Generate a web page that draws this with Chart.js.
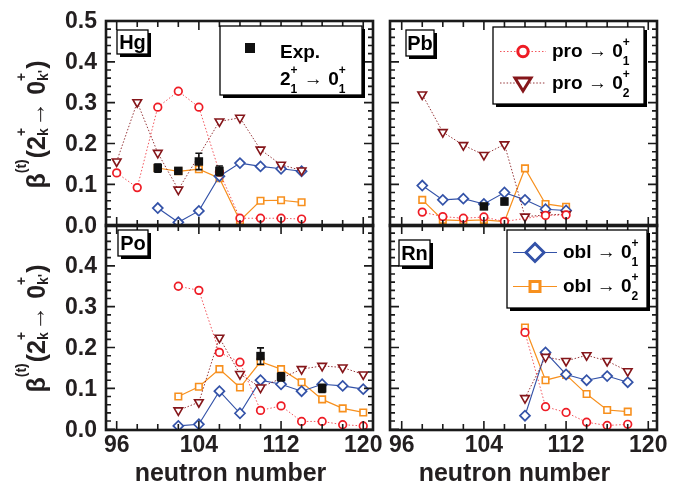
<!DOCTYPE html>
<html>
<head>
<meta charset="utf-8">
<script src="https://cdn.jsdelivr.net/npm/chart.js@4.4.1/dist/chart.umd.min.js"></script>
<style>
  html, body { margin: 0; padding: 0; background: #fff; }
  #wrap { position: relative; width: 678px; height: 489px; overflow: hidden; background: #fff; }
  #wrap canvas { position: absolute; left: 0; top: 0; }
</style>
</head>
<body>
<div id="wrap">
  <canvas id="cHg" width="678" height="489"></canvas>
  <canvas id="cPb" width="678" height="489"></canvas>
  <canvas id="cPo" width="678" height="489"></canvas>
  <canvas id="cRn" width="678" height="489"></canvas>
</div>
<script>
// ---- tick labels ----
const xTickLabels = [96, 104, 112, 120];
const yTickLabelsTop = [0.0, 0.1, 0.2, 0.3, 0.4, 0.5];
const yTickLabelsBottom = [0.0, 0.1, 0.2, 0.3, 0.4];

// ---- Hg ----
const nHg = [96, 98, 100, 102, 104, 106, 108, 110, 112, 114];
const hgPro1 = [0.128, 0.092, 0.289, 0.328, 0.289, 0.130, 0.017, 0.017, 0.017, 0.015];
const hgPro2 = [0.156, 0.301, 0.177, 0.087, null, 0.254, 0.263, 0.185, 0.148, 0.134];
const hgObl1 = [null, null, 0.042, 0.007, 0.035, 0.120, 0.152, 0.144, 0.138, 0.132];
const hgObl2 = [null, null, 0.140, 0.132, 0.137, 0.115, 0.011, 0.060, 0.061, 0.056];
const nHgExp = [100, 102, 104, 106];
const hgExp = [0.140, 0.133, 0.156, 0.133];
const hgExpErr = [0.010, 0.006, 0.020, 0.012];

// ---- Pb ----
const nPb = [98, 100, 102, 104, 106, 108, 110, 112];
const pbPro1 = [0.032, 0.021, 0.017, 0.020, 0.009, null, 0.024, 0.025];
const pbPro2 = [0.320, 0.228, 0.196, 0.172, 0.198, 0.021, 0.025, 0.027];
const pbObl1 = [0.097, 0.062, 0.065, 0.052, 0.080, 0.062, 0.039, 0.036];
const pbObl2 = [0.062, 0.013, 0.011, 0.013, 0.009, 0.139, 0.052, 0.045];
const nPbExp = [104, 106];
const pbExp = [0.046, 0.058];
const pbExpErr = [0.006, 0.008];

// ---- Po ----
const nPo = [102, 104, 106, 108, 110, 112, 114, 116, 118, 120];
const poPro1 = [0.350, 0.340, 0.188, 0.164, 0.046, 0.057, 0.019, 0.019, 0.011, 0.008];
const poPro2 = [0.046, 0.066, 0.224, 0.135, 0.102, null, 0.147, 0.155, 0.151, 0.134];
const poObl1 = [0.008, 0.012, 0.093, 0.039, 0.120, 0.110, 0.093, 0.110, 0.106, 0.098];
const poObl2 = [0.080, 0.104, 0.147, 0.102, 0.165, 0.147, 0.115, 0.073, 0.051, 0.041];
const nPoExp = [110, 112, 116];
const poExp = [0.179, 0.128, 0.100];
const poExpErr = [0.020, 0.010, 0.010];

// ---- Rn ----
const nRn = [108, 110, 112, 114, 116, 118];
const rnPro1 = [0.237, 0.055, 0.041, 0.017, 0.009, 0.012];
const rnPro2 = [0.076, 0.177, 0.167, 0.181, 0.167, 0.142];
const rnObl1 = [0.033, 0.188, 0.134, 0.120, 0.130, 0.115];
const rnObl2 = [0.249, 0.120, 0.133, 0.086, 0.047, 0.043];

// ---- styling ----
const FONT = '"Liberation Sans", Arial, Helvetica, sans-serif';
const RED = '#ee1c25', DRED = '#85161a', BLUE = '#3352a8', ORANGE = '#f7901e', INK = '#111111';

const stylePro1 = { showLine: true, borderColor: 'rgba(238,28,37,0.75)', borderWidth: 1, borderDash: [1.5, 2],
  pointStyle: 'circle', pointRadius: 3.8, pointBorderWidth: 1.7, pointBorderColor: RED,
  pointBackgroundColor: '#fff', spanGaps: true, order: 1 };
const stylePro2 = { showLine: true, borderColor: 'rgba(133,22,26,0.85)', borderWidth: 1, borderDash: [1.5, 1.8],
  pointStyle: 'triangle', rotation: 180, pointRadius: 5, pointBorderWidth: 1.6, pointBorderColor: DRED,
  pointBackgroundColor: '#fff', spanGaps: true, order: 2 };
const styleObl1 = { showLine: true, borderColor: BLUE, borderWidth: 1.1,
  pointStyle: 'rectRot', pointRadius: 5, pointBorderWidth: 1.7, pointBorderColor: BLUE,
  pointBackgroundColor: '#fff', spanGaps: true, order: 3 };
const styleObl2 = { showLine: true, borderColor: ORANGE, borderWidth: 1.2,
  pointStyle: 'rect', pointRadius: 4.6, pointBorderWidth: 1.6, pointBorderColor: ORANGE,
  pointBackgroundColor: '#fff', spanGaps: true, order: 4 };
const styleExp = { showLine: false, pointStyle: 'rect', pointRadius: 6, pointBorderWidth: 0,
  pointBackgroundColor: INK, pointBorderColor: INK, order: 0 };

function series(ns, vals, style, extra) {
  return Object.assign({ data: ns.map((n, i) => ({ x: n, y: vals[i] })) }, style, extra || {});
}

// ---- rich text (super/subscripts) ----
function drawRich(ctx, parts, x, y, o) {
  const size = o.size, small = o.small;
  let w = 0;
  parts.forEach(p => {
    if (p.t !== undefined) {
      ctx.font = `bold ${size}px ${FONT}`;
      p._w = ctx.measureText(p.t).width;
    } else {
      ctx.font = `bold ${small}px ${FONT}`;
      p._w = Math.max(p.sup ? ctx.measureText(p.sup).width : 0, p.sub ? ctx.measureText(p.sub).width : 0) + 1;
    }
    w += p._w;
  });
  let cx = o.align === 'center' ? x - w / 2 : x;
  ctx.textAlign = 'left';
  ctx.textBaseline = 'alphabetic';
  parts.forEach(p => {
    if (p.t !== undefined) {
      ctx.font = `bold ${size}px ${FONT}`;
      ctx.fillText(p.t, cx, y);
    } else {
      ctx.font = `bold ${small}px ${FONT}`;
      if (p.sup) ctx.fillText(p.sup, cx, y - o.supDy);
      if (p.sub) ctx.fillText(p.sub, cx, y + o.subDy);
    }
    cx += p._w;
  });
}

function tagBox(ctx, text, x, y, w, h) {
  ctx.fillStyle = '#000';
  ctx.fillRect(x + 3, y + 3, w, h);
  ctx.fillStyle = '#fff';
  ctx.fillRect(x, y, w, h);
  ctx.lineWidth = 1.3;
  ctx.strokeStyle = '#000';
  ctx.strokeRect(x, y, w, h);
  ctx.fillStyle = '#000';
  ctx.font = `bold 20px ${FONT}`;
  ctx.textAlign = 'center';
  ctx.textBaseline = 'middle';
  ctx.fillText(text, x + w / 2, y + h / 2 + 1);
}

function legendBox(ctx, x, y, w, h) {
  ctx.fillStyle = '#000';
  ctx.fillRect(x + 3, y + 3, w, h);
  ctx.fillStyle = '#fff';
  ctx.fillRect(x, y, w, h);
  ctx.lineWidth = 1.3;
  ctx.strokeStyle = '#000';
  ctx.strokeRect(x, y, w, h);
}

function marker(ctx, kind, x, y) {
  ctx.save();
  ctx.setLineDash([]);
  ctx.beginPath();
  if (kind === 'circle') {
    ctx.strokeStyle = RED; ctx.lineWidth = 3;
    ctx.arc(x, y, 5.2, 0, Math.PI * 2);
  } else if (kind === 'tri') {
    ctx.strokeStyle = DRED; ctx.lineWidth = 3;
    ctx.moveTo(x - 8, y - 5); ctx.lineTo(x + 8, y - 5); ctx.lineTo(x, y + 8); ctx.closePath();
  } else if (kind === 'diamond') {
    ctx.strokeStyle = BLUE; ctx.lineWidth = 3;
    ctx.moveTo(x - 9, y); ctx.lineTo(x, y - 9); ctx.lineTo(x + 9, y); ctx.lineTo(x, y + 9); ctx.closePath();
  } else if (kind === 'square') {
    ctx.strokeStyle = ORANGE; ctx.lineWidth = 3;
    ctx.rect(x - 5, y - 5, 10, 10);
  }
  ctx.fillStyle = '#fff';
  ctx.fill();
  ctx.stroke();
  ctx.restore();
}

function legendLine(ctx, color, dash, x1, x2, y) {
  ctx.save();
  ctx.strokeStyle = color; ctx.lineWidth = 1; ctx.setLineDash(dash);
  ctx.beginPath(); ctx.moveTo(x1, y); ctx.lineTo(x2, y); ctx.stroke();
  ctx.restore();
}

const legOpts = { size: 19, small: 12, supDy: 11, subDy: 8, align: 'left' };

// ---- frame, ticks, labels, error bars ----
const framePlugin = {
  id: 'frame',
  afterDatasetsDraw(chart, args, o) {
    const ctx = chart.ctx, a = chart.chartArea, xs = chart.scales.x, ys = chart.scales.y;
    ctx.save();
    // error bars of the measured points
    chart.data.datasets.forEach((ds, di) => {
      if (!ds.errors) return;
      const meta = chart.getDatasetMeta(di);
      ctx.strokeStyle = INK; ctx.lineWidth = 1.6; ctx.setLineDash([]);
      meta.data.forEach((pt, i) => {
        const v = ds.data[i].y, e = ds.errors[i];
        const y1 = ys.getPixelForValue(v + e), y2 = ys.getPixelForValue(v - e);
        ctx.beginPath();
        ctx.moveTo(pt.x, y1); ctx.lineTo(pt.x, y2);
        ctx.moveTo(pt.x - 3.5, y1); ctx.lineTo(pt.x + 3.5, y1);
        ctx.moveTo(pt.x - 3.5, y2); ctx.lineTo(pt.x + 3.5, y2);
        ctx.stroke();
      });
    });
    // inward ticks on all four sides
    ctx.strokeStyle = '#1a1a1a'; ctx.lineWidth = 1.6;
    ctx.beginPath();
    for (let v = 96; v <= 120; v += 2) {
      const px = xs.getPixelForValue(v);
      const len = xTickLabels.includes(v) ? 9 : 6;
      ctx.moveTo(px, a.bottom); ctx.lineTo(px, a.bottom - len);
      ctx.moveTo(px, a.top); ctx.lineTo(px, a.top + len);
    }
    for (let k = 0; k <= 25; k++) {
      const py = ys.getPixelForValue(k * 0.02);
      const len = k % 5 === 0 ? 9 : 5;
      ctx.moveTo(a.left, py); ctx.lineTo(a.left + len, py);
      ctx.moveTo(a.right, py); ctx.lineTo(a.right - len, py);
    }
    ctx.stroke();
    // frame
    ctx.lineWidth = 2.6;
    ctx.strokeRect(a.left, a.top, a.right - a.left, a.bottom - a.top);

    // tick labels
    ctx.fillStyle = '#231f20';
    ctx.font = `bold 23px ${FONT}`;
    if (o.yLabels) {
      ctx.textAlign = 'right'; ctx.textBaseline = 'middle';
      o.yLabels.forEach(v => ctx.fillText(v.toFixed(1), a.left - 9, ys.getPixelForValue(v) + 1));
    }
    if (o.xLabels) {
      ctx.textAlign = 'center'; ctx.textBaseline = 'top';
      xTickLabels.forEach(v => ctx.fillText(String(v), xs.getPixelForValue(v), a.bottom + 4));
      ctx.font = `bold 25px ${FONT}`;
      ctx.textBaseline = 'alphabetic';
      ctx.fillText('neutron number', (a.left + a.right) / 2 - 9, 481);
    }
    if (o.yTitle) {
      ctx.save();
      ctx.translate(45, (a.top + a.bottom) / 2 + 1);
      ctx.rotate(-Math.PI / 2);
      drawRich(ctx, [{ t: '\u03b2' }, { sup: '(t)' }, { t: '(2' }, { sup: '+', sub: 'k' },
        { t: '\u2192 0' }, { sup: '+', sub: "k'" }, { t: ')' }], 0, 0,
        { size: 25, small: 14, supDy: 19, subDy: 3, align: 'center' });
      ctx.restore();
    }
    ctx.restore();
  },
  afterDraw(chart, args, o) {
    const ctx = chart.ctx;
    ctx.save();
    if (o.tag) tagBox(ctx, o.tag.text, o.tag.x, o.tag.y, o.tag.w, o.tag.h);
    ctx.fillStyle = '#000';
    if (o.legend === 'exp') {
      legendBox(ctx, 220, 26, 142, 69);
      ctx.fillStyle = INK; ctx.fillRect(245, 43, 10, 10);
      ctx.fillStyle = '#000';
      drawRich(ctx, [{ t: 'Exp.' }], 280, 58, legOpts);
      drawRich(ctx, [{ t: '2' }, { sup: '+', sub: '1' }, { t: ' \u2192 0' }, { sup: '+', sub: '1' }], 280, 85, legOpts);
    } else if (o.legend === 'pro') {
      legendBox(ctx, 493, 27, 151, 77);
      legendLine(ctx, 'rgba(238,28,37,0.75)', [1.5, 2], 500, 546, 51.5);
      marker(ctx, 'circle', 523, 51.5);
      legendLine(ctx, 'rgba(133,22,26,0.85)', [1.5, 1.8], 500, 546, 83);
      marker(ctx, 'tri', 523, 83);
      ctx.fillStyle = '#000';
      drawRich(ctx, [{ t: 'pro \u2192 0' }, { sup: '+', sub: '1' }], 552, 57, legOpts);
      drawRich(ctx, [{ t: 'pro \u2192 0' }, { sup: '+', sub: '2' }], 552, 89, legOpts);
    } else if (o.legend === 'obl') {
      legendBox(ctx, 507, 230, 140, 78);
      legendLine(ctx, BLUE, [], 513, 557, 252.5);
      marker(ctx, 'diamond', 535, 252.5);
      legendLine(ctx, ORANGE, [], 513, 557, 286.5);
      marker(ctx, 'square', 535, 286.5);
      ctx.fillStyle = '#000';
      drawRich(ctx, [{ t: 'obl \u2192 0' }, { sup: '+', sub: '1' }], 563, 258, legOpts);
      drawRich(ctx, [{ t: 'obl \u2192 0' }, { sup: '+', sub: '2' }], 563, 292, legOpts);
    }
    ctx.restore();
  }
};

function makePanel(id, area, xRange, datasets, frameOpts) {
  return new Chart(document.getElementById(id), {
    type: 'scatter',
    data: { datasets },
    options: {
      responsive: false,
      animation: false,
      devicePixelRatio: 1,
      layout: { padding: { left: area.left, top: area.top, right: 678 - area.right, bottom: 489 - area.bottom } },
      scales: {
        x: { type: 'linear', min: xRange[0], max: xRange[1], display: false },
        y: { type: 'linear', min: -0.002, max: 0.5, display: false }
      },
      elements: { line: { tension: 0 } },
      plugins: { legend: { display: false }, tooltip: { enabled: false }, frame: frameOpts }
    },
    plugins: [framePlugin]
  });
}

const xLeft = [94.96, 120.95];
const xRight = [94.86, 120.85];

makePanel('cHg', { left: 106, top: 21, right: 373, bottom: 226 }, xLeft, [
  series(nHgExp, hgExp, styleExp, { errors: hgExpErr }),
  series(nHg, hgPro1, stylePro1),
  series(nHg, hgPro2, stylePro2),
  series(nHg, hgObl1, styleObl1),
  series(nHg, hgObl2, styleObl2)
], { yLabels: yTickLabelsTop, yTitle: true, tag: { text: 'Hg', x: 117, y: 30, w: 31, h: 24 }, legend: 'exp' });

makePanel('cPb', { left: 390, top: 21, right: 657, bottom: 226 }, xRight, [
  series(nPbExp, pbExp, styleExp, { errors: pbExpErr }),
  series(nPb, pbPro1, stylePro1),
  series(nPb, pbPro2, stylePro2),
  series(nPb, pbObl1, styleObl1),
  series(nPb, pbObl2, styleObl2)
], { tag: { text: 'Pb', x: 406, y: 30, w: 28, h: 26 }, legend: 'pro' });

makePanel('cPo', { left: 106, top: 225, right: 373, bottom: 430 }, xLeft, [
  series(nPoExp, poExp, styleExp, { errors: poExpErr }),
  series(nPo, poPro1, stylePro1),
  series(nPo, poPro2, stylePro2),
  series(nPo, poObl1, styleObl1),
  series(nPo, poObl2, styleObl2)
], { yLabels: yTickLabelsBottom, xLabels: true, yTitle: true, tag: { text: 'Po', x: 118, y: 230, w: 30, h: 26 } });

makePanel('cRn', { left: 390, top: 225, right: 657, bottom: 430 }, xRight, [
  series(nRn, rnPro1, stylePro1),
  series(nRn, rnPro2, stylePro2),
  series(nRn, rnObl1, styleObl1),
  series(nRn, rnObl2, styleObl2)
], { xLabels: true, tag: { text: 'Rn', x: 399, y: 240, w: 31, h: 26 }, legend: 'obl' });
</script>
</body>
</html>
